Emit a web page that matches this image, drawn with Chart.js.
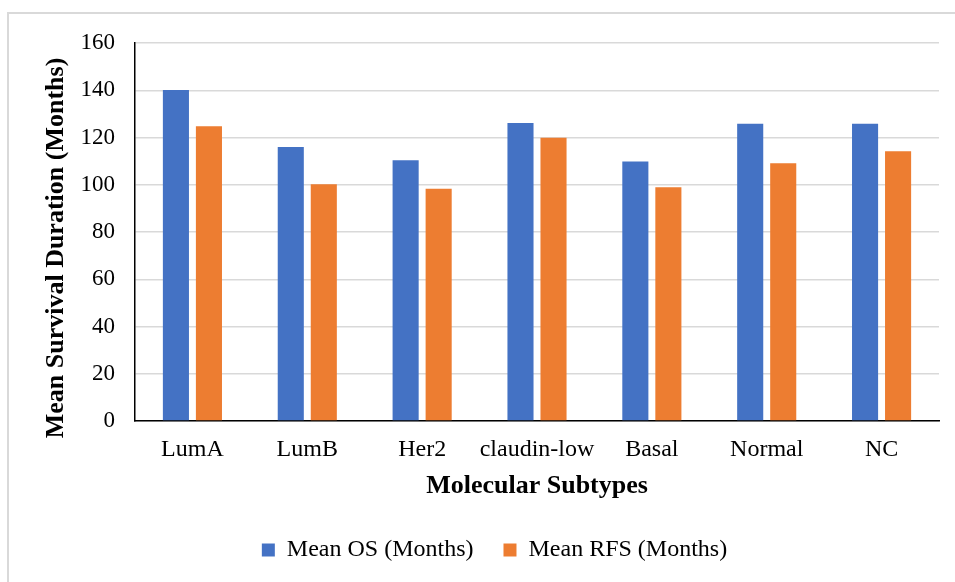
<!DOCTYPE html>
<html>
<head>
<meta charset="utf-8">
<script src="https://cdn.jsdelivr.net/npm/chart.js@4"></script>
<style>
  html, body { margin: 0; padding: 0; background: #fff; overflow: hidden; }
  #wrap { position: relative; width: 955px; height: 582px; overflow: hidden; }
  #frame { position: absolute; left: 7px; top: 12px; width: 960px; height: 600px;
           border: 2px solid #d9d9d9; box-sizing: border-box; }
  #c { position: absolute; left: 0; top: 0; }
</style>
</head>
<body>
<div id="wrap">
  <div id="frame"></div>
  <canvas id="c" width="955" height="600"></canvas>
</div>
<script>
// Mean survival per molecular subtype
const subtypes = ["LumA", "LumB", "Her2", "claudin-low", "Basal", "Normal", "NC"];
const meanOS  = [140.1, 116.0, 110.4, 126.1, 109.8, 125.8, 125.8];
const meanRFS = [124.8, 100.2, 98.3, 119.9, 98.9, 109.1, 114.2];
const yTicks  = [0, 20, 40, 60, 80, 100, 120, 140, 160];

const serif = "'Liberation Serif', 'Times New Roman', serif";
const LEFT_PAD = 50;   // shifts the legend; the y axis absorbs it

// Rotated y-axis title, centred a little below the plot's mid-height
const yTitlePlugin = {
  id: 'yTitle',
  afterDraw(chart) {
    const ctx = chart.ctx;
    const area = chart.chartArea;
    ctx.save();
    ctx.translate(56, (area.top + area.bottom) / 2 + 16);
    ctx.rotate(-Math.PI / 2);
    ctx.font = "bold 26px " + serif;
    ctx.fillStyle = '#000';
    ctx.textAlign = 'center';
    ctx.textBaseline = 'middle';
    ctx.fillText('Mean Survival Duration (Months)', 0, 0);
    ctx.restore();
  }
};

new Chart(document.getElementById('c'), {
  type: 'bar',
  data: {
    labels: subtypes,
    datasets: [
      { label: 'Mean OS (Months)', data: meanOS, backgroundColor: '#4472C4',
        categoryPercentage: 0.575, barPercentage: 0.79 },
      { label: 'Mean RFS (Months)', data: meanRFS, backgroundColor: '#ED7D31',
        categoryPercentage: 0.575, barPercentage: 0.79 }
    ]
  },
  options: {
    responsive: false,
    animation: false,
    devicePixelRatio: 1,
    layout: { padding: { top: 43, right: 16, left: LEFT_PAD, bottom: 28 } },
    plugins: {
      tooltip: { enabled: false },
      legend: {
        position: 'bottom',
        labels: {
          boxWidth: 13, boxHeight: 13, padding: 30,
          color: '#000', font: { family: serif, size: 24 }
        }
      }
    },
    scales: {
      x: {
        grid: { display: false, drawTicks: false },
        border: { color: '#000', width: 1.5 },
        ticks: { color: '#000', padding: 14, maxRotation: 0, minRotation: 0, autoSkip: false,
                 font: { family: serif, size: 24 } },
        title: { display: true, text: 'Molecular Subtypes', color: '#000',
                 font: { family: serif, size: 26, weight: 'bold' }, padding: { top: 0, bottom: 6 } },
        afterFit(scale) { scale.height = 87; }
      },
      y: {
        min: 0, max: 160,
        afterBuildTicks(scale) { scale.ticks = yTicks.map(v => ({ value: v })); },
        grid: { color: '#d9d9d9', lineWidth: 1.5, drawTicks: false },
        border: { color: '#000', width: 1.5 },
        ticks: { color: '#000', padding: 20, font: { family: serif, size: 23 } },
        afterFit(scale) { scale.width = 135 - LEFT_PAD; }
      }
    }
  },
  plugins: [yTitlePlugin]
});
</script>
</body>
</html>
